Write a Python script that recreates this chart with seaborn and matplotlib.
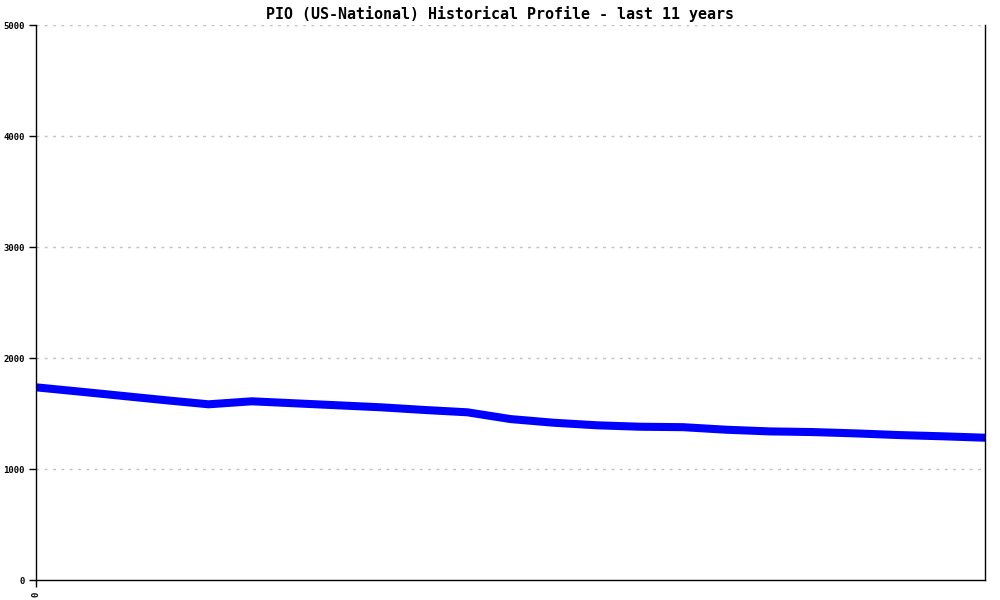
import matplotlib
matplotlib.use('Agg')
import matplotlib.pyplot as plt
import seaborn as sns
import pandas as pd

# half-year samples over the last 11 years
period = list(range(23))
members = [1736, 1698, 1659, 1620, 1583, 1610, 1592, 1574, 1556, 1532, 1511,
           1450, 1417, 1394, 1381, 1377, 1354, 1339, 1333, 1321, 1306, 1295, 1282]
yticks = [0, 1000, 2000, 3000, 4000, 5000]

df = pd.DataFrame({'period': period, 'members': members})

sns.set_style('white')
plt.rcParams['font.family'] = ['DejaVu Sans Mono', 'DejaVu Sans']
plt.rcParams['text.color'] = 'black'
plt.rcParams['xtick.color'] = 'black'
plt.rcParams['ytick.color'] = 'black'

fig = plt.figure(figsize=(10, 6), dpi=100)
ax = fig.add_axes([0.036, 0.0333, 0.949, 0.925])

sns.lineplot(data=df, x='period', y='members', color='#0000ff', linewidth=5.8, ax=ax)

ax.set_xlim(0, 22)
ax.set_ylim(0, 5000)
ax.set_yticks(yticks)
ax.set_yticklabels([str(t) for t in yticks], fontsize=6.5, fontweight='bold', color='black')
ax.set_xticks([0])
ax.set_xticklabels(['0'], rotation=90, fontsize=6.5, fontweight='bold', color='black')
ax.tick_params(axis='both', direction='out', length=5, width=1, color='black', pad=3,
               left=True, bottom=True)
ax.set_xlabel('')
ax.set_ylabel('')

for y in yticks[1:]:
    ax.axhline(y, color='#c0c0c0', linestyle=(0, (2, 4)), linewidth=1, zorder=0)

ax.spines['top'].set_visible(False)
for s in ['left', 'right', 'bottom']:
    ax.spines[s].set_color('black')
    ax.spines[s].set_linewidth(1)

fig.suptitle('PIO (US-National) Historical Profile - last 11 years', y=0.99,
             fontsize=10.8, fontweight='bold', color='black')

fig.savefig('out.png', dpi=100)
